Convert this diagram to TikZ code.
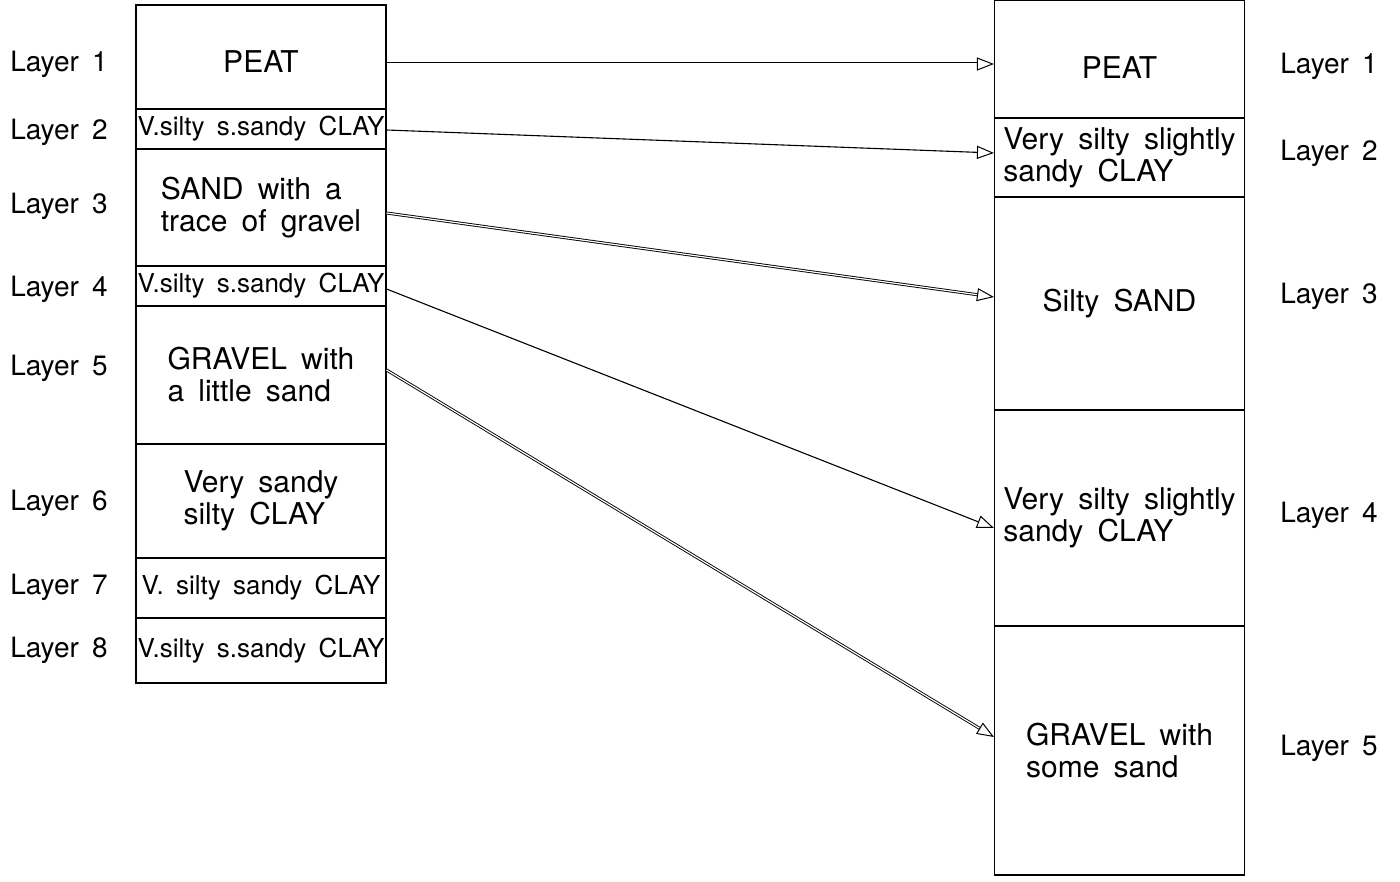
\documentclass[tikz,border=0pt]{standalone}
\usepackage{fontspec}
\setmainfont{TeX Gyre Heros}[WordSpace=1.7]
\usetikzlibrary{arrows.meta}
\tikzset{
  layer/.style={draw,line width=1.1pt,minimum width=250pt,inner sep=0pt,align=left,font=\fontsize{30}{32}\selectfont},
  thin/.style={font=\fontsize{26}{30}\selectfont},
  lbl/.style={font=\fontsize{28}{32}\selectfont},
  tip/.style={-{Triangle[open,length=17pt,width=13pt,line width=1pt]}},
  sgl/.style={tip,line width=1.1pt},
  dbl/.style={tip,line width=0.9pt,double,double distance=1.2pt}
}
\begin{document}
\begin{tikzpicture}[x=1pt,y=-1pt]
			\useasboundingbox (0,0) rectangle (1400,882);
			% old log
			\node[layer,minimum height=104pt,text height=32pt] (L1) at (261,57) {PEAT};
			\node[layer,thin,minimum height=40pt] (L2) at (261,129) {V.silty s.sandy CLAY};
			\node[layer,minimum height=117pt] (L3) at (261,207.5) {SAND with a\\trace of gravel};
			\node[layer,thin,minimum height=40pt] (L4) at (261,286) {V.silty s.sandy CLAY};
			\node[layer,minimum height=138pt] (L5) at (261,375) {GRAVEL with\\a little sand};
			\node[layer,minimum height=114pt] (L6) at (261,501) {Very sandy\\silty CLAY};
			\node[layer,thin,minimum height=60pt] (L7) at (261,588) {V. silty sandy CLAY};
			\node[layer,thin,minimum height=65pt] (L8) at (261,650.5) {V.silty s.sandy CLAY};
			% new log
			\node[layer,minimum height=118pt,text height=39pt] (R1) at (1119.5,59) {PEAT};
			\node[layer,minimum height=79pt] (R2) at (1119.5,157.5) {Very silty slightly\\sandy CLAY};
			\node[layer,minimum height=213pt] (R3) at (1119.5,303.5) {Silty SAND};
			\node[layer,minimum height=216pt] (R4) at (1119.5,518) {Very silty slightly\\sandy CLAY};
			\node[layer,minimum height=249pt] (R5) at (1119.5,750.5) {GRAVEL with\\some sand};
			% labels
			\node[lbl] (a1) at (59,64) {Layer 1};
			\node[lbl] (a2) at (59,132) {Layer 2};
			\node[lbl] (a3) at (59,206) {Layer 3};
			\node[lbl] (a4) at (59,289) {Layer 4};
			\node[lbl] (a5) at (59,368) {Layer 5};
			\node[lbl] (a6) at (59,503) {Layer 6};
			\node[lbl] (a7) at (59,587) {Layer 7};
			\node[lbl] (a8) at (59,650) {Layer 8};
			\node[lbl] (b1) at (1329,66) {Layer 1};
			\node[lbl] (b2) at (1329,153) {Layer 2};
			\node[lbl] (b3) at (1329,296) {Layer 3};
			\node[lbl] (b4) at (1329,515) {Layer 4};
			\node[lbl] (b5) at (1329,748) {Layer 5};
			% Arrows
			\draw[dbl] ([yshift=-7pt]L1.east) -- ([yshift=-5pt]R1.west);
			\draw[sgl] ([yshift=-1pt]L2.east) -- ([yshift=4.5pt]R2.west);
			\draw[dbl] ([yshift=-5.5pt]L3.east) -- ([yshift=6.5pt]R3.west);
			\draw[sgl] ([yshift=-3pt]L4.east) -- ([yshift=-10pt]R4.west);
			\draw[dbl] ([yshift=5pt]L5.east) -- ([yshift=13.5pt]R5.west);
\end{tikzpicture}
\end{document}
